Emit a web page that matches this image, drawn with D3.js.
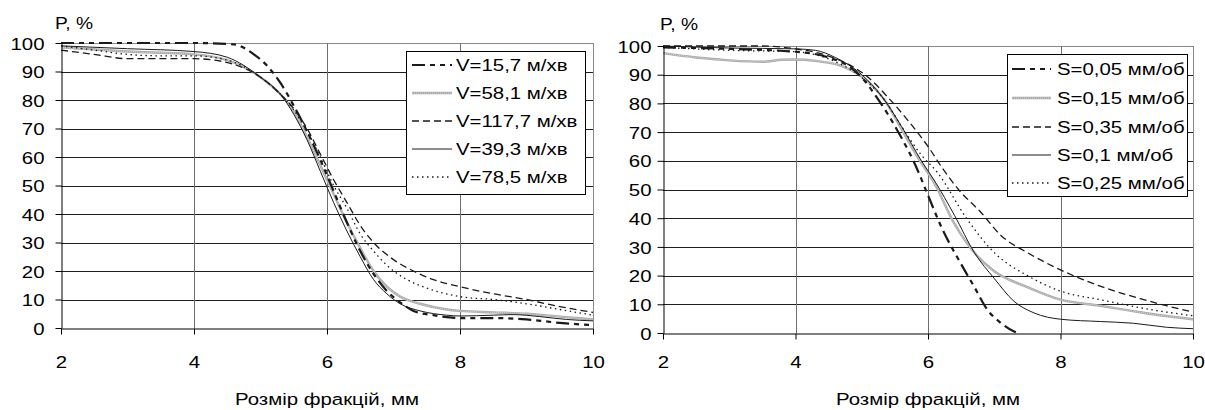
<!DOCTYPE html>
<html><head><meta charset="utf-8">
<script src="https://cdn.jsdelivr.net/npm/d3@7"></script>
<style>
body{margin:0;background:#fff;}
svg text{font-family:"Liberation Sans",Arial,sans-serif;fill:#000;}
</style>
</head><body>
<svg id="chart" width="1205" height="410"></svg>
<script>
// ---------- data ----------
const xTicks = [2, 4, 6, 8, 10];
const yTicks = [0, 10, 20, 30, 40, 50, 60, 70, 80, 90, 100];
const yLabel = "P, %";
const xLabel = "Розмір фракцій, мм";

const leftNames = ["V=15,7 м/хв", "V=58,1 м/хв", "V=117,7 м/хв", "V=39,3 м/хв", "V=78,5 м/хв"];
const rightNames = ["S=0,05 мм/об", "S=0,15 мм/об", "S=0,35 мм/об", "S=0,1 мм/об", "S=0,25 мм/об"];

// left chart (cutting speed V)
const v157 = [[2,100],[3,100],[4,100],[4.6,99.5],[4.9,96],[5.1,92],[5.3,86],[5.5,78],[5.7,69],[5.9,59],[6.1,48],[6.3,37],[6.5,27],[6.7,19],[6.9,13],[7.1,9],[7.3,6],[7.6,4.5],[8,3.5],[8.5,3.5],[9,3],[9.5,1.8],[10,1]];
const v581 = [[2,98.5],[3,97],[4,96],[4.5,94],[5,88],[5.3,82],[5.5,76],[5.7,67],[5.9,57],[6.1,47],[6.3,37],[6.5,28],[6.7,20],[6.9,14.5],[7.1,11],[7.4,8.5],[7.8,6.5],[8,6],[8.5,5.5],[9,5],[9.5,4],[10,3]];
const v1177 = [[2,97.5],[2.5,96],[3,94.5],[3.5,94.5],[4,94.5],[4.3,94],[4.6,92.5],[5,88],[5.3,82],[5.5,77],[5.7,70],[5.9,61],[6.1,52],[6.3,44],[6.5,36],[6.7,30],[7,24],[7.3,20],[7.6,17],[8,14.5],[8.5,12],[9,10],[9.5,7.5],[10,5.5]];
const v393 = [[2,99],[3,98],[4,97],[4.5,95],[5,88],[5.3,82],[5.5,75],[5.7,66],[5.9,55],[6.1,44],[6.3,34],[6.5,25],[6.7,17],[6.9,12],[7.1,8.5],[7.4,6],[7.8,4.5],[8,4.2],[8.5,4.5],[8.8,4.7],[9.2,4],[9.6,3],[10,2.5]];
const v785 = [[2,99],[2.5,97.5],[3,96],[3.5,95.5],[4,95.5],[4.5,94],[5,88],[5.3,82],[5.5,76.5],[5.7,69],[5.9,60],[6.1,50],[6.3,42],[6.5,33],[6.7,27],[6.9,22],[7.2,17],[7.5,14],[8,11],[8.5,10],[9,8.5],[9.5,6.5],[10,4.5]];

// right chart (feed S)
const s005 = [[2,99.5],[3,99],[4,98],[4.5,96],[4.8,93],[5,89],[5.2,83],[5.4,76],[5.6,68],[5.8,59],[6,48],[6.2,37],[6.5,24],[6.7,16],[6.9,8],[7.1,3.5],[7.3,0.5],[7.35,0]];
const s015 = [[2,97.5],[2.5,96],[3,95],[3.5,94.5],[3.8,95.2],[4,95.3],[4.3,94.8],[4.7,93],[5.1,87.5],[5.35,81],[5.6,71],[5.85,61],[6.1,52],[6.4,38],[6.7,28],[7,21.5],[7.5,16],[8,11.6],[8.6,9.5],[9.1,7.6],[9.5,6.2],[10,4.8]];
const s035 = [[2,100],[3,100],[3.5,100],[4,99],[4.5,96.5],[5.1,89],[5.4,82],[5.7,74],[6,65],[6.23,57],[6.46,50],[6.8,42],[7.1,34],[7.5,28],[8,22],[8.6,16.3],[9.2,12],[9.6,9.5],[10,7.3]];
const s01 = [[2,100],[3,99.3],[4,99],[4.3,98.5],[4.6,96],[5,90],[5.3,82.5],[5.6,72],[5.9,60],[6.1,53],[6.4,41],[6.7,28],[7,19],[7.3,11],[7.6,7],[8,4.8],[8.6,4],[9.1,3.4],[9.6,2],[10,1.5]];
const s025 = [[2,99.5],[3,98.5],[4,98],[4.5,95.5],[5,89],[5.35,81],[5.6,72],[5.9,62],[6.14,56],[6.58,40],[7,28],[7.5,20],[8,14.6],[8.6,11.6],[9.35,8.2],[10,6]];

// ---------- styles & layout ----------
const SX = 1.2;           // horizontal stretch of the original picture's text
const FS = 17;
const lineStyles = [
  {stroke:"#1a1a1a", width:2.2, dash:"13,5,5,5,5,5"},
  {stroke:"#a8a8a8", width:2.4, dash:null, grey:true},
  {stroke:"#1a1a1a", width:1.3, dash:"7,4"},
  {stroke:"#1a1a1a", width:1, dash:null},
  {stroke:"#1a1a1a", width:1.3, dash:"1.5,3.5"}
];

const panels = [
  {names:leftNames, series:[v157,v581,v1177,v393,v785],
   x0:61, x1:593, yTop:43, yBot:328, yGap:17, xLabBase:368, pX:55, pBase:29,
   leg:{x:406, y:51, w:179, h:143, sx0:412, sx1:452, tx:456, rows:[65,93,121,149,177]}},
  {names:rightNames, series:[s005,s015,s035,s01,s025],
   x0:663, x1:1193, yTop:46, yBot:333, yGap:12, xLabBase:368, pX:660, pBase:30,
   leg:{x:1007, y:54, w:180, h:142, sx0:1012, sx1:1051, tx:1057, rows:[69,98,127,155,183]}}
];

const svg = d3.select("#chart");

function stretchText(sel){
  sel.each(function(){
    const t = d3.select(this);
    const x = +t.attr("x") || 0;
    t.attr("x", x / SX).attr("transform", `scale(${SX},1)`);
  });
}

panels.forEach(p => {
  const g = svg.append("g");
  const x = d3.scaleLinear().domain([2,10]).range([p.x0, p.x1]);
  const y = d3.scaleLinear().domain([0,100]).range([p.yBot, p.yTop]);

  // horizontal gridlines
  g.append("g").selectAll("line").data(yTicks.filter(d => d > 0)).join("line")
    .attr("x1", p.x0).attr("x2", p.x1)
    .attr("y1", d => Math.round(y(d)) + 0.5).attr("y2", d => Math.round(y(d)) + 0.5)
    .attr("stroke", d => d === 100 ? "#8a8a8a" : "#1e1e1e").attr("stroke-width", 1);
  // vertical gridlines
  g.append("g").selectAll("line").data(xTicks.filter(d => d > 2)).join("line")
    .attr("x1", d => Math.round(x(d)) + 0.5).attr("x2", d => Math.round(x(d)) + 0.5)
    .attr("y1", p.yTop).attr("y2", p.yBot)
    .attr("stroke", d => d === 10 ? "#8a8a8a" : "#6e6e6e").attr("stroke-width", 1);

  // curves
  const line = d3.line().x(d => x(d[0])).y(d => y(d[1])).curve(d3.curveMonotoneX);
  const order = [1,3,4,2,0];
  order.forEach(i => {
    const st = lineStyles[i];
    g.append("path").datum(p.series[i]).attr("d", line)
      .attr("fill","none").attr("stroke", st.stroke).attr("stroke-width", st.width)
      .attr("stroke-dasharray", st.dash).attr("stroke-linejoin","round");
    if (st.grey) {
      g.append("path").datum(p.series[i]).attr("d", line)
        .attr("fill","none").attr("stroke","#e4e4e4").attr("stroke-width",0.8)
        .attr("stroke-dasharray","1,1");
    }
  });

  // y axis
  const yAx = g.append("g").attr("transform", `translate(${Math.round(p.x0)+0.5},0)`)
    .call(d3.axisLeft(y).tickValues(yTicks).tickSize(6).tickPadding((p.yGap - 6) / SX * SX).tickSizeOuter(0));
  yAx.select(".domain").attr("stroke","#000");
  yAx.selectAll(".tick line").attr("stroke","#000");
  yAx.selectAll("text").style("font-size", FS+"px").attr("dy","0.36em").call(stretchText);

  // x axis
  const xAx = g.append("g").attr("transform", `translate(0,${Math.round(p.yBot)+0.5})`)
    .call(d3.axisBottom(x).tickValues(xTicks).tickSize(6).tickSizeOuter(0)
      .tickPadding(p.xLabBase - p.yBot - 6 - 12.2));
  xAx.select(".domain").attr("stroke","#000");
  xAx.selectAll(".tick line").attr("stroke","#000");
  xAx.selectAll("text").style("font-size", FS+"px").attr("dy","0.71em").call(stretchText);

  // axis titles
  svg.append("text").attr("transform", `translate(${(p.x0+p.x1)/2},405) scale(${SX},1)`)
    .attr("text-anchor","middle").style("font-size", FS+"px").text(xLabel);
  svg.append("text").attr("transform", `translate(${p.pX},${p.pBase}) scale(${SX},1)`)
    .attr("text-anchor","start").style("font-size", (FS-1)+"px").text(yLabel);

  // legend
  const L = p.leg;
  const lg = svg.append("g");
  lg.append("rect").attr("x", L.x+0.5).attr("y", L.y+0.5).attr("width", L.w).attr("height", L.h)
    .attr("fill","#fff").attr("stroke","#000").attr("stroke-width",1);
  p.names.forEach((n, i) => {
    const st = lineStyles[i];
    const ry = L.rows[i];
    lg.append("line").attr("x1", L.sx0).attr("x2", L.sx1).attr("y1", ry).attr("y2", ry)
      .attr("stroke", st.stroke).attr("stroke-width", st.width).attr("stroke-dasharray", st.dash);
    if (st.grey) {
      lg.append("line").attr("x1", L.sx0).attr("x2", L.sx1).attr("y1", ry).attr("y2", ry)
        .attr("stroke","#e4e4e4").attr("stroke-width",0.8).attr("stroke-dasharray","1,1");
    }
    lg.append("text").attr("transform", `translate(${L.tx},${ry+6}) scale(${SX},1)`)
      .style("font-size", FS+"px").text(n);
  });
});
</script>
</body></html>
